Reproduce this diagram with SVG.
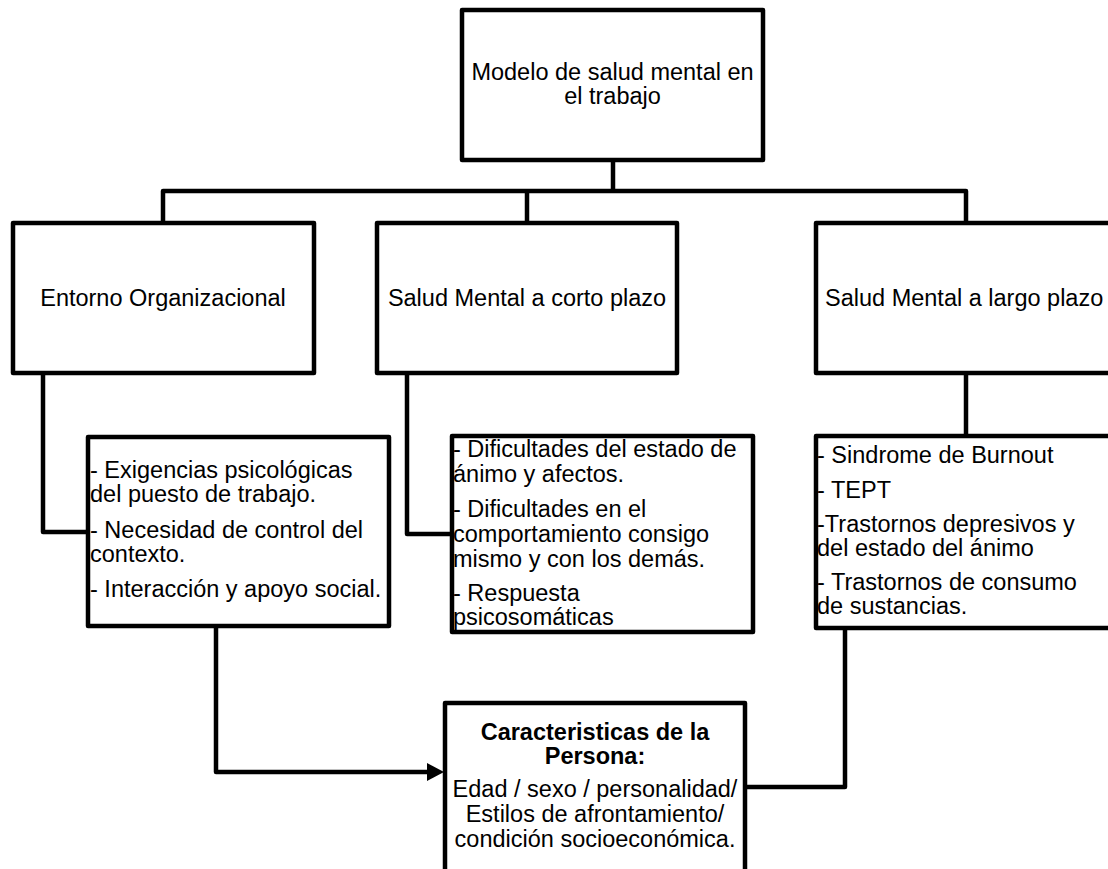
<svg xmlns="http://www.w3.org/2000/svg" width="1108" height="869" viewBox="0 0 1108 869">
<defs>
<style>
.box{fill:#fff;stroke:#000;stroke-width:4.5;stroke-linejoin:round}
.ln{fill:none;stroke:#000;stroke-width:4.5;stroke-linejoin:round}
text{font-family:"Liberation Sans",Arial,sans-serif;font-size:23.5px;fill:#000}
.c{text-anchor:middle}
.b{font-weight:bold}
</style>
</defs>
<rect width="1108" height="869" fill="#fff"/>
<g id="connectors">
<path class="ln" d="M613,160 V191"/>
<path class="ln" d="M163,223 V191 H966 V223"/>
<path class="ln" d="M527,191 V223"/>
<path class="ln" d="M43,373 V532 H88"/>
<path class="ln" d="M407,373 V534 H452"/>
<path class="ln" d="M966,373 V436"/>
<path class="ln" d="M216,626 V772 H427"/>
<path d="M427,763 L444,772 L427,781 Z" fill="#000"/>
<path class="ln" d="M745,787 H845 V628"/>
</g>
<g id="top">
<rect class="box" x="462" y="10" width="301" height="150"/>
<text class="c" x="612.5" y="80">Modelo de salud mental en</text>
<text class="c" x="612.5" y="104">el trabajo</text>
</g>
<g id="entorno">
<rect class="box" x="13" y="223" width="301" height="150"/>
<text class="c" x="163" y="306">Entorno Organizacional</text>
</g>
<g id="corto">
<rect class="box" x="377" y="223" width="300" height="150"/>
<text class="c" x="527" y="306">Salud Mental a corto plazo</text>
</g>
<g id="largo">
<rect class="box" x="816" y="223" width="310" height="150"/>
<text x="825" y="306">Salud Mental a largo plazo</text>
</g>
<g id="entorno-items">
<rect class="box" x="88" y="437" width="301" height="189"/>
<text x="90" y="478">- Exigencias psicológicas</text>
<text x="90" y="502">del puesto de trabajo.</text>
<text x="90" y="538">- Necesidad de control del</text>
<text x="90" y="562">contexto.</text>
<text x="90" y="597">- Interacción y apoyo social.</text>
</g>
<g id="corto-items">
<rect class="box" x="452" y="436" width="301" height="196"/>
<text x="453" y="457">- Dificultades del estado de</text>
<text x="453" y="482">ánimo y afectos.</text>
<text x="453" y="517">- Dificultades en el</text>
<text x="453" y="542">comportamiento consigo</text>
<text x="453" y="567">mismo y con los demás.</text>
<text x="453" y="601">- Respuesta</text>
<text x="453" y="625">psicosomáticas</text>
</g>
<g id="largo-items">
<rect class="box" x="816" y="436" width="310" height="192"/>
<text x="817" y="463">- Sindrome de Burnout</text>
<text x="817" y="498">- TEPT</text>
<text x="817" y="532">-Trastornos depresivos y</text>
<text x="817" y="556">del estado del ánimo</text>
<text x="817" y="590">- Trastornos de consumo</text>
<text x="817" y="614">de sustancias.</text>
</g>
<g id="persona">
<rect class="box" x="445" y="703" width="300" height="180"/>
<text class="c b" x="595" y="740">Caracteristicas de la</text>
<text class="c b" x="595" y="764">Persona:</text>
<text class="c" x="595" y="797">Edad / sexo / personalidad/</text>
<text class="c" x="595" y="822">Estilos de afrontamiento/</text>
<text class="c" x="595" y="847">condición socioeconómica.</text>
</g>
</svg>
